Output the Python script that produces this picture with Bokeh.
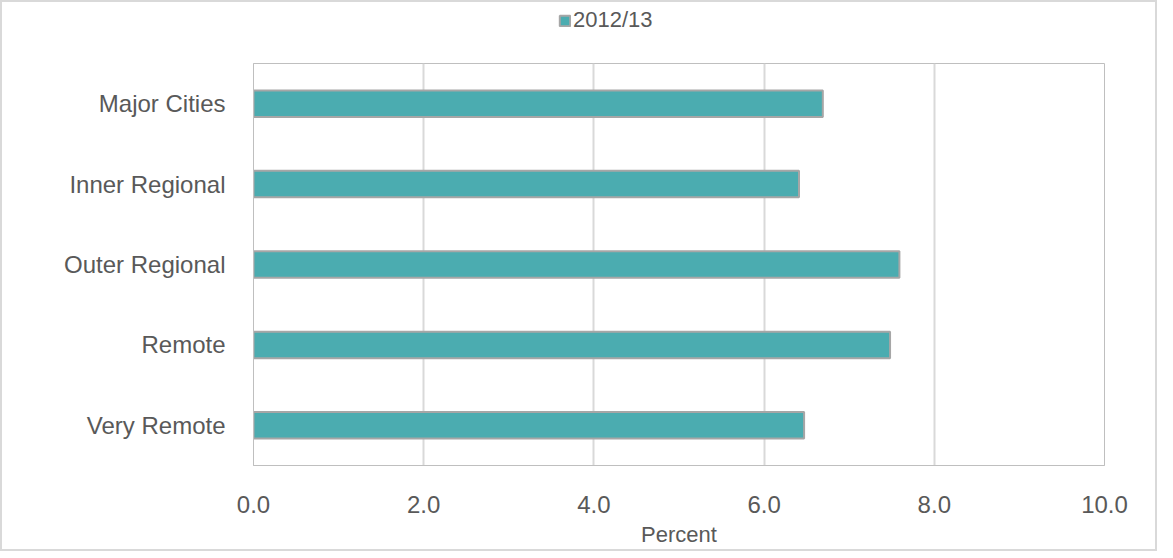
from bokeh.plotting import figure
from bokeh.layouts import column
from bokeh.models import Legend, LegendItem
from bokeh.embed import file_html
from bokeh.resources import INLINE

regions = ["Very Remote", "Remote", "Outer Regional", "Inner Regional", "Major Cities"]
values = [6.47, 7.48, 7.59, 6.41, 6.69]
series = "2012/13"

bar_style = dict(fill_color="#4BACB0", line_color="#a6a6a6", line_width=2)
font = "Liberation Sans"
grey = "#595959"

p = figure(frame_width=851, frame_height=402, y_range=regions, x_range=(0, 10),
           output_backend="svg", toolbar_location=None,
           min_border_left=251, min_border_right=51, min_border_top=0, min_border_bottom=83)
p.outline_line_color = "#bfbfbf"

p.hbar(y=regions, right=values, height=0.33, **bar_style)

p.xaxis.ticker = [0, 2, 4, 6, 8, 10]
p.xaxis.major_label_overrides = {i: f"{i:.1f}" for i in [0, 2, 4, 6, 8, 10]}
p.xaxis.axis_label = "Percent"
for ax in (p.xaxis, p.yaxis):
    ax.major_label_text_font = font
    ax.major_label_text_font_size = "24px"
    ax.major_label_text_color = grey
    ax.major_tick_line_color = None
    ax.minor_tick_line_color = None
    ax.axis_line_color = "#bfbfbf"
p.xaxis.axis_label_text_font = font
p.xaxis.axis_label_text_font_style = "normal"
p.xaxis.axis_label_text_font_size = "22px"
p.xaxis.axis_label_text_color = grey
p.xaxis.axis_label_standoff = 6
p.xaxis.major_label_standoff = 24
p.yaxis.major_label_standoff = 22
p.xgrid.grid_line_color = "#d9d9d9"
p.xgrid.grid_line_width = 2
p.ygrid.grid_line_color = None

# legend lives in a thin strip above the chart
top = figure(frame_width=1153, frame_height=61, x_range=(0, 1), y_range=(0, 1),
             output_backend="svg", toolbar_location=None, min_border=0)
top.axis.visible = False
top.grid.visible = False
top.outline_line_color = None
dummy = top.hbar(y=[5], right=[5], left=[4], height=0.3, **bar_style)
legend = Legend(items=[LegendItem(label=series, renderers=[dummy])],
                orientation="horizontal", border_line_color=None,
                background_fill_alpha=0,
                label_text_font=font, label_text_font_size="22px",
                label_text_color=grey, glyph_width=13, glyph_height=13,
                label_standoff=2, padding=0, margin=0, location=(556, 30))
top.add_layout(legend, "center")

layout = column(top, p, spacing=0, styles={"border": "2px solid #d9d9d9"})
open("out.html", "w").write(file_html(layout, INLINE))
